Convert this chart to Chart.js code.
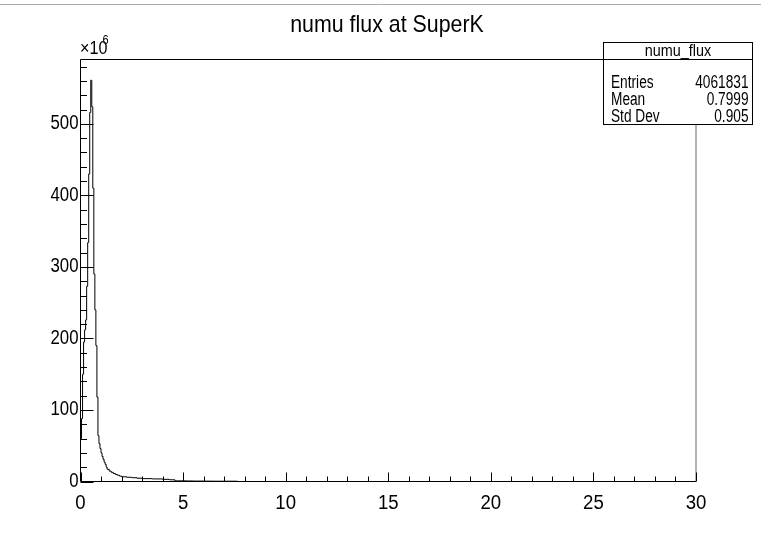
<!DOCTYPE html>
<html><head><meta charset="utf-8">
<script src="https://cdn.jsdelivr.net/npm/chart.js@4.4.0/dist/chart.umd.min.js"></script>
<style>html,body{margin:0;padding:0;background:#fff;overflow:hidden}#wrap{width:761px;height:534px;position:relative}canvas{display:block}</style>
</head><body><div id="wrap"><canvas id="c" width="761" height="534"></canvas></div>
<script>
// ---- data (values in units of 10^6) ----
const chartTitle = "numu flux at SuperK";
const binEdges = [0,0.05,0.1,0.15,0.2,0.25,0.3,0.35,0.4,0.45,0.5,0.55,0.6,0.65,0.7,0.75,0.8,0.85,0.9,0.95,1.0,1.05,1.1,1.15,1.2,1.25,1.3,1.4,1.5,1.6,1.7,1.8,1.9,2.0,2.25,2.5,2.75,3.0,3.5,4.0,4.35,4.6,5.15,5.5,6.0,6.5,7.0,7.65];
const fluxValues = [20,60,88,150,195,212,226,273,334,430,516,561,524,410,290,240,190,118,64,53,46,40,35,31,27,24,20,17,14.5,12.8,11.2,9.8,8.7,7.6,6.6,5.9,5.3,4.6,4.0,3.6,3.0,2.4,0.9,0.75,0.6,0.5,0.4];
const xRange = [0, 30];
const yRange = [0, 590];
const xTickValues = [0,5,10,15,20,25,30];
const xTickLabels = ["0","5","10","15","20","25","30"];
const yTickValues = [0,100,200,300,400,500];
const yTickLabels = ["0","100","200","300","400","500"];
const yExponentLabel = ["\u00d710", "6"];
const statsTitle = "numu_flux";
const statsLabels = ["Entries","Mean","Std Dev"];
const statsValues = ["4061831","0.7999","0.905"];

// ---- build histogram outline points from the arrays ----
const pts = [{x: binEdges[0], y: 0}];
for (let i = 0; i < fluxValues.length; i++) pts.push({x: binEdges[i], y: fluxValues[i]});
pts.push({x: binEdges[binEdges.length-1], y: fluxValues[fluxValues.length-1]});
pts.push({x: binEdges[binEdges.length-1], y: 0});
pts.push({x: xRange[1], y: 0});

const FONT = '"Liberation Sans", Arial, Helvetica, sans-serif';
function txt(ctx, s, x, y, size, sx, align, baseline) {
  ctx.save();
  ctx.translate(x, y);
  ctx.scale(sx, 1);
  ctx.font = size + 'px ' + FONT;
  ctx.textAlign = align;
  ctx.textBaseline = baseline;
  ctx.fillStyle = '#000';
  ctx.fillText(s, 0, 0);
  ctx.restore();
}

const rootPlugin = {
  id: 'rootStyle',
  afterDraw(chart) {
    const ctx = chart.ctx;
    const a = chart.chartArea;
    const xs = chart.scales.x, ys = chart.scales.y;
    ctx.save();
    // top thin gray line
    ctx.strokeStyle = '#aaa'; ctx.lineWidth = 1;
    ctx.beginPath(); ctx.moveTo(0, 4.5); ctx.lineTo(761, 4.5); ctx.stroke();
    // frame right
    ctx.strokeStyle = '#666';
    ctx.beginPath(); ctx.moveTo(a.right, a.top); ctx.lineTo(a.right, a.bottom); ctx.stroke();
    // axes + top
    ctx.strokeStyle = '#000';
    ctx.beginPath(); ctx.moveTo(a.right, a.top); ctx.lineTo(a.left, a.top); ctx.lineTo(a.left, a.bottom); ctx.lineTo(a.right, a.bottom); ctx.stroke();
    // x ticks (inward)
    ctx.beginPath();
    const xStep = xTickValues[1] - xTickValues[0];
    for (let v = xRange[0]; v <= xRange[1] + 1e-9; v += xStep / 5) {
      const px = Math.round(xs.getPixelForValue(v)) + 0.5;
      const major = Math.abs(v / xStep - Math.round(v / xStep)) < 1e-6;
      ctx.moveTo(px, a.bottom); ctx.lineTo(px, a.bottom - (major ? 9 : 5));
    }
    // y ticks (inward)
    const yStep = yTickValues[1] - yTickValues[0];
    for (let v = yRange[0]; v <= yRange[1] + 1e-9; v += yStep / 5) {
      const py = Math.round(ys.getPixelForValue(v)) + 0.5;
      const major = Math.abs(v / yStep - Math.round(v / yStep)) < 1e-6;
      ctx.moveTo(a.left, py); ctx.lineTo(a.left + (major ? 13 : 6.5), py);
    }
    ctx.stroke();
    // tick labels
    xTickValues.forEach((v, i) => txt(ctx, xTickLabels[i], xs.getPixelForValue(v), 509, 20, 0.93, 'center', 'alphabetic'));
    yTickValues.forEach((v, i) => txt(ctx, yTickLabels[i], 78.5, ys.getPixelForValue(v), 20, 0.84, 'right', 'middle'));
    // exponent
    txt(ctx, yExponentLabel[0], 80, 54, 19, 0.85, 'left', 'alphabetic');
    txt(ctx, yExponentLabel[1], 102.5, 44, 13, 0.85, 'left', 'alphabetic');
    // title
    txt(ctx, chartTitle, 387, 31.5, 24, 0.89, 'center', 'alphabetic');
    // stats box
    ctx.fillStyle = '#fff';
    ctx.fillRect(603.5, 42.5, 149, 82);
    ctx.strokeStyle = '#000';
    ctx.strokeRect(603.5, 42.5, 149, 82);
    ctx.beginPath(); ctx.moveTo(603.5, 59.5); ctx.lineTo(752.5, 59.5); ctx.stroke();
    txt(ctx, statsTitle, 678, 51.5, 16, 0.9, 'center', 'middle');
    const rowY = [83, 100, 117];
    statsLabels.forEach((s, i) => {
      txt(ctx, s, 611, rowY[i], 18, 0.76, 'left', 'middle');
      txt(ctx, statsValues[i], 748.5, rowY[i], 18, 0.76, 'right', 'middle');
    });
    ctx.restore();
  }
};

new Chart(document.getElementById('c').getContext('2d'), {
  type: 'line',
  data: { datasets: [{ data: pts, stepped: 'after', borderColor: '#000', borderWidth: 1, pointRadius: 0, fill: false, tension: 0 }] },
  options: {
    responsive: false, animation: false, devicePixelRatio: 1,
    layout: { padding: { left: 80.5, right: 65, top: 59.5, bottom: 52.5 } },
    scales: {
      x: { type: 'linear', min: xRange[0], max: xRange[1], display: false },
      y: { type: 'linear', min: yRange[0], max: yRange[1], display: false }
    },
    plugins: { legend: { display: false }, tooltip: { enabled: false }, title: { display: false } }
  },
  plugins: [rootPlugin]
});
</script>
</body></html>
